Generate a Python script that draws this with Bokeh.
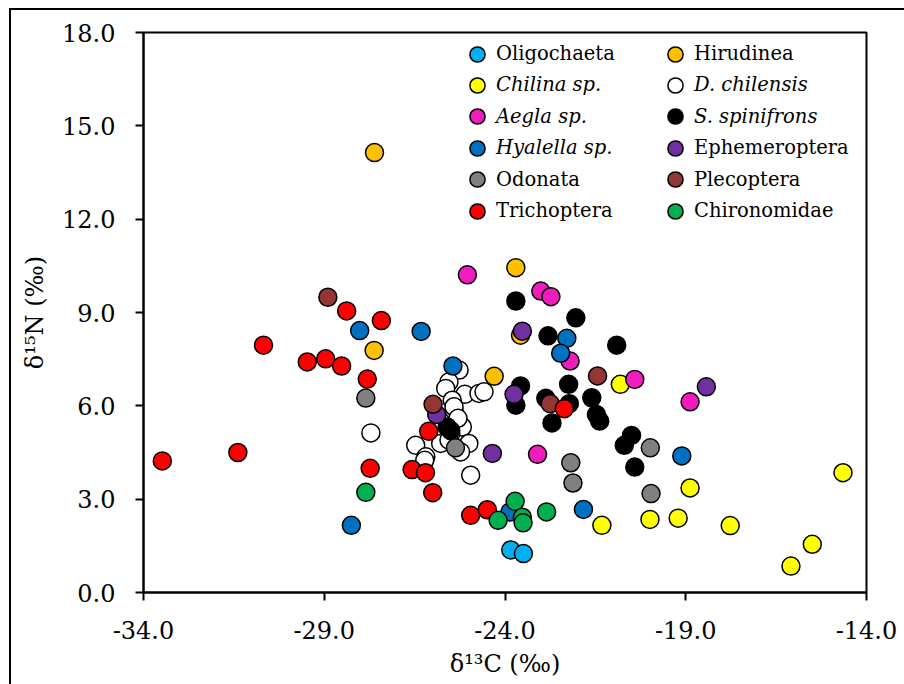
from bokeh.plotting import figure
from bokeh.models import Range1d, FixedTicker, PrintfTickFormatter, Legend, LegendItem
from bokeh.embed import file_html
from bokeh.resources import INLINE

# ---- data (delta13C, delta15N) ----
oligo_x = [-23.84, -23.49]
oligo_y = [1.37, 1.25]

hirud_x = [-27.61, -27.62, -24.30, -23.70, -23.57]
hirud_y = [14.14, 7.78, 6.95, 10.44, 8.27]

chilina_x = [-20.81, -14.65, -18.88, -21.32, -19.99, -19.21, -17.77, -15.50, -16.09]
chilina_y = [6.69, 3.85, 3.36, 2.16, 2.35, 2.39, 2.15, 1.55, 0.85]

dchil_x = [-27.71, -25.27, -25.55, -25.64, -25.11, -24.72, -24.58, -25.46, -25.41, -25.41,
           -25.27, -25.18, -25.00, -25.69, -25.78, -26.47, -26.19, -26.22, -25.23, -24.95,
           -25.50, -25.30, -25.55]
dchil_y = [5.13, 7.15, 6.77, 6.56, 6.37, 6.40, 6.45, 6.18, 5.86, 5.97,
           5.43, 5.32, 4.79, 5.00, 4.79, 4.73, 4.36, 4.25, 4.52, 3.77,
           5.10, 5.60, 4.90]

aegla_x = [-25.04, -23.01, -22.73, -22.20, -20.41, -18.88, -23.10]
aegla_y = [10.21, 9.69, 9.51, 7.44, 6.85, 6.13, 4.44]

sspin_x = [-23.70, -22.04, -22.81, -20.91, -23.57, -23.70, -22.87, -22.24, -22.22, -22.70,
           -21.60, -21.47, -21.38, -20.50, -20.70, -20.41, -25.60, -25.50]
sspin_y = [9.37, 8.83, 8.25, 7.95, 6.64, 6.02, 6.24, 6.69, 6.07, 5.45,
           6.26, 5.72, 5.51, 5.05, 4.73, 4.03, 5.32, 5.20]

hyal_x = [-28.02, -26.32, -25.44, -22.29, -22.46, -28.25, -23.86, -21.83, -19.11]
hyal_y = [8.42, 8.39, 7.28, 8.17, 7.69, 2.16, 2.59, 2.67, 4.39]

ephem_x = [-23.52, -23.75, -18.43, -24.35, -25.89]
ephem_y = [8.40, 6.37, 6.61, 4.47, 5.72]

odon_x = [-27.85, -25.37, -22.18, -22.12, -19.98, -19.96]
odon_y = [6.25, 4.65, 4.17, 3.52, 4.65, 3.18]

pleco_x = [-28.90, -25.99, -21.44, -22.75]
pleco_y = [9.49, 6.05, 6.96, 6.07]

trich_x = [-28.38, -27.42, -30.68, -29.47, -28.96, -28.52, -27.81, -33.48, -31.39, -27.73,
           -26.57, -26.20, -26.00, -26.11, -22.36, -24.95, -24.49]
trich_y = [9.05, 8.74, 7.95, 7.41, 7.51, 7.28, 6.86, 4.23, 4.50, 3.99,
           3.95, 3.85, 3.21, 5.18, 5.91, 2.48, 2.66]

chiro_x = [-27.85, -24.19, -23.72, -23.52, -23.50, -22.85]
chiro_y = [3.22, 2.32, 2.93, 2.42, 2.24, 2.59]

names = ["Oligochaeta", "Hirudinea", "Chilina sp.", "D. chilensis", "Aegla sp.", "S. spinifrons",
         "Hyalella sp.", "Ephemeroptera", "Odonata", "Plecoptera", "Trichoptera", "Chironomidae"]
italic = [False, False, True, True, True, True, True, False, False, False, False, False]
colors = ["#00B0F0", "#FFC000", "#FFFF00", "#FFFFFF", "#F01CBE", "#000000",
          "#0070C0", "#7030A0", "#808080", "#943634", "#FF0000", "#00B050"]
xs = [oligo_x, hirud_x, chilina_x, dchil_x, aegla_x, sspin_x, hyal_x, ephem_x, odon_x, pleco_x, trich_x, chiro_x]
ys = [oligo_y, hirud_y, chilina_y, dchil_y, aegla_y, sspin_y, hyal_y, ephem_y, odon_y, pleco_y, trich_y, chiro_y]

x_ticks = [-34, -29, -24, -19, -14]
y_ticks = [0, 3, 6, 9, 12, 15, 18]

FONT = "DejaVu Serif"

p = figure(width=904, height=684, output_backend="svg", toolbar_location=None,
           x_range=Range1d(-34, -14), y_range=Range1d(0, 18),
           min_border_left=143, min_border_right=38, min_border_top=32, min_border_bottom=92)
p.border_fill_color = None
p.background_fill_color = "white"
p.outline_line_color = "black"
p.outline_line_width = 2
p.xgrid.visible = False
p.ygrid.visible = False
p.styles = {
    "background-image": "linear-gradient(#000, #000), linear-gradient(#000, #000)",
    "background-size": "100% 2px, 2px 100%",
    "background-position": "9px 8px, 9px 8px",
    "background-repeat": "no-repeat",
}

for ax, ticks in ((p.xaxis, x_ticks), (p.yaxis, y_ticks)):
    ax.ticker = FixedTicker(ticks=ticks)
    ax.formatter = PrintfTickFormatter(format="%.1f")
    ax.axis_line_width = 2
    ax.major_tick_line_width = 2
    ax.major_tick_out = 8
    ax.major_tick_in = 0
    ax.minor_tick_out = 0
    ax.minor_tick_in = 0
    ax.major_label_text_font = FONT
    ax.major_label_text_font_size = "24px"
    ax.major_label_text_color = "black"
    ax.axis_label_text_font = FONT
    ax.axis_label_text_font_size = "24px"
    ax.axis_label_text_font_style = "normal"
    ax.axis_label_text_color = "black"

p.xaxis.axis_label = "δ¹³C (‰)"
p.yaxis.axis_label = "δ¹⁵N (‰)"
p.xaxis.major_label_standoff = 20
p.xaxis.axis_label_standoff = 8
p.yaxis.major_label_standoff = 20
p.yaxis.axis_label_standoff = 10

renderers = []
for name, c, x, y in zip(names, colors, xs, ys):
    r = p.scatter(x, y, size=18, fill_color=c, line_color="black", line_width=1.5)
    renderers.append(r)

# legend: two columns, six rows
frame_left, frame_bottom = 143, 592
col_cx = [477, 675]
row0_cy, row_dy = 53.5, 31.4
G = 38
for i, (name, r, it) in enumerate(zip(names, renderers, italic)):
    col = i % 2
    row = i // 2
    cx = col_cx[col]
    cy = row0_cy + row * row_dy
    lg = Legend(items=[LegendItem(label=name, renderers=[r])],
                location=(cx - frame_left - G / 2, frame_bottom - cy - G / 2),
                glyph_width=G, glyph_height=G, label_standoff=0,
                padding=0, margin=0, spacing=0,
                border_line_color=None, background_fill_alpha=0,
                label_text_font=FONT, label_text_font_size="19.5px",
                label_text_font_style="italic" if it else "normal",
                label_text_color="black")
    p.add_layout(lg, "center")

open("out.html", "w").write(file_html(p, INLINE))
